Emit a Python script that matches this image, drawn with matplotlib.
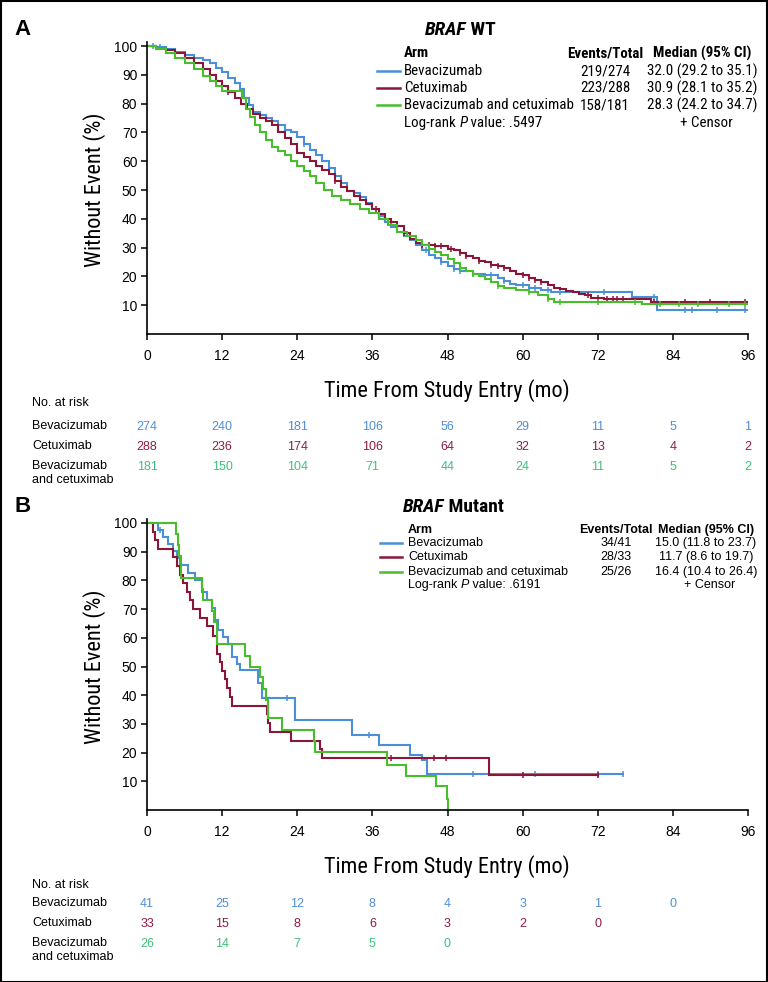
import numpy as np
import matplotlib
matplotlib.use('Agg')
import matplotlib.pyplot as plt
from matplotlib import font_manager as fm
from matplotlib.transforms import blended_transform_factory
from matplotlib.patches import Rectangle
from matplotlib.lines import Line2D

W, H = 768, 982
REG = ['Liberation Sans', 'DejaVu Sans']

BLUE, RED, GREEN = '#4a8fd8', '#8c1638', '#48be2c'
BLUE_TXT, RED_TXT, GREEN_TXT = '#4f8fd2', '#8e1d40', '#3cc07a'

months = [0, 12, 24, 36, 48, 60, 72, 84, 96]
arm_names = ['Bevacizumab', 'Cetuximab', 'Bevacizumab and cetuximab']
risk_labels = ['Bevacizumab', 'Cetuximab', 'Bevacizumab\nand cetuximab']

# ---- Panel A: BRAF WT ----
wt_bev_t = [0, 1.5, 3, 4.5, 6, 7.5, 9, 10, 11, 12, 13, 14, 14.8, 15.5, 16.3, 17, 18, 19, 20, 21,
            22, 23, 24, 25, 26, 27, 28, 29, 30, 31, 32, 33, 34, 35, 36, 37, 38, 39, 40, 41, 42, 43,
            44, 45, 46, 47, 48, 49, 50, 52, 54, 56, 57, 58, 59, 61, 63, 64.5, 77.5, 81.5, 96]
wt_bev_s = [100, 99.5, 99, 98, 97, 96, 95, 94, 92.5, 91, 89, 87, 85, 82, 79.5, 77, 76, 75, 74, 72.5,
            71, 70, 68.5, 66, 64, 62, 60, 57.5, 55, 52.5, 49.8, 49, 47.5, 45.5, 43.5, 41, 39, 37, 35.5,
            34, 32.5, 31, 29, 27.5, 26.5, 25, 23.5, 22.5, 22, 21, 20.5, 19.5, 18.5, 17.5, 17, 16, 15.2,
            14.6, 13, 8.5, 8.5]
wt_cet_t = [0, 1.5, 3, 4.5, 6, 7.5, 9, 10, 11, 12, 13, 14, 15, 16, 17, 18, 19, 20, 21, 22, 23, 24,
            25, 26, 27, 28, 29, 30, 31, 32, 33, 34, 35, 36, 37, 38, 39, 40, 41, 42, 43, 44, 46, 48, 49,
            50, 51, 52, 53, 54, 55, 56, 57, 58, 59, 60, 61, 62, 63, 64, 65, 66, 67, 68, 69, 70, 71, 73,
            80.5, 96]
wt_cet_s = [100, 99, 98.5, 97.5, 96, 94, 92, 90, 88, 86, 84, 82, 80, 78, 76.5, 75, 74, 72.5, 70, 68,
            66, 63, 61.5, 60, 58.5, 57, 55.5, 53, 51, 49.5, 48, 46.5, 45, 43.5, 41.5, 40, 39, 37.5, 35,
            33, 31.5, 31, 30.5, 29.5, 29, 28, 27, 26.5, 25.5, 25, 24, 23.5, 23, 22, 21, 20.5, 19.5, 18.8,
            18, 17, 16, 15.5, 15, 14.5, 14, 13.5, 12.5, 12.2, 11.1, 11.1]
wt_both_t = [0, 1.5, 3, 4.5, 6, 7.5, 9, 10, 11, 12, 15.2, 15.8, 16.5, 17.2, 18, 19, 20, 21, 22, 23,
             24, 25, 26, 27, 28.3, 29.5, 31, 32.5, 34, 35.5, 37, 38.5, 40, 41.5, 43, 44, 45, 46, 47,
             48, 49, 50, 51, 52, 53, 54, 55, 56, 57, 59, 61, 62.5, 64, 65, 79, 96]
wt_both_s = [100, 99, 97.5, 96, 94, 92, 89.5, 88, 86, 84.5, 82, 78, 75.3, 72.5, 70, 67.5, 65, 63.5,
             62, 60, 58.5, 56.5, 55, 52.5, 50, 48, 46.5, 45, 43.5, 42, 40, 38, 35.5, 34, 32.5, 31,
             29.5, 28.5, 27.5, 26, 24.5, 23, 22, 21, 20, 19.2, 18, 16.5, 16, 15.3, 14.5, 13.5, 12, 11.1,
             10.4, 10.4]
wt_bev_cens = [1, 2, 25, 31, 44.5, 47, 49, 50, 52, 55, 57, 60, 62, 64, 66, 73, 81, 86, 87, 91, 95.5]
wt_cet_cens = [13, 30, 36.5, 41, 44, 45, 46, 47, 48.5, 50, 51, 53, 55, 56, 57, 60, 61, 62, 63, 70.5,
               72, 73.5, 74.5, 75, 76, 81, 86, 90, 95.5]
wt_both_cens = [49, 50, 52, 56, 61, 64, 66, 72, 78, 82, 85, 88, 93, 95.5]
wt_events = ['219/274', '223/288', '158/181']
wt_median = ['32.0 (29.2 to 35.1)', '30.9 (28.1 to 35.2)', '28.3 (24.2 to 34.7)']
wt_pval = '.5497'
wt_risk = [[274, 240, 181, 106, 56, 29, 11, 5, 1],
           [288, 236, 174, 106, 64, 32, 13, 4, 2],
           [181, 150, 104, 71, 44, 24, 11, 5, 2]]

# ---- Panel B: BRAF Mutant ----
mt_bev_t = [0, 1.8, 2.6, 3.4, 4.2, 4.8, 5.3, 6.6, 7.7, 8.75, 9.55, 10.35, 10.9, 11.4, 12.2, 13.0,
            13.55, 14.35, 14.9, 17.8, 18.35, 23.7, 32.75, 37.0, 42.0, 43.95, 44.75, 76]
mt_bev_s = [100, 97.6, 95.1, 92.7, 90.2, 87.8, 85.4, 82.5, 80, 76, 73.2, 70.3, 66.2, 62.7, 60.4, 58,
            53.4, 51, 48.7, 44.1, 39, 31.4, 26.2, 22.7, 19.2, 17.4, 12.7, 12.7]
mt_cet_t = [0, 0.9, 1.3, 1.8, 4.2, 4.75, 5.3, 5.8, 6.35, 6.9, 7.4, 8.5, 9.55, 10.6, 11.15, 11.7,
            12.0, 12.5, 12.85, 13.3, 13.55, 19.15, 19.4, 19.7, 23.0, 27.7, 27.95, 54.6, 72]
mt_cet_s = [100, 97, 94, 91, 88, 85, 82, 79, 76, 73, 70, 67, 64, 60.6, 54.5, 51.5, 48.5, 45.5, 42.4,
            39.4, 36.4, 33.4, 30.3, 27.3, 24.2, 21.2, 18.2, 12.1, 12.1]
mt_both_t = [0, 4.64, 5.0, 5.17, 5.39, 8.75, 9.0, 10.35, 10.7, 11.15, 15.7, 16.5, 18.1, 18.6, 19.0,
             19.4, 21.55, 26.6, 26.9, 38.35, 41.3, 46.1, 47.9, 48.0]
mt_both_s = [100, 96.2, 92.3, 88.5, 80.8, 76.9, 73.1, 69.2, 65.4, 57.7, 53.8, 50, 46.2, 42.3, 38.5,
             32, 27.9, 23.9, 20.2, 15.8, 12, 8.3, 3.8, 0]
mt_bev_cens = [2.1, 22.3, 35.4, 52, 62, 72, 76]
mt_cet_cens = [38.9, 45.8, 47.7, 60, 72]
mt_both_cens = []
mt_events = ['34/41', '28/33', '25/26']
mt_median = ['15.0 (11.8 to 23.7)', '11.7 (8.6 to 19.7)', '16.4 (10.4 to 26.4)']
mt_pval = '.6191'
mt_risk = [[41, 25, 12, 8, 4, 3, 1, 0],
           [33, 15, 8, 6, 3, 2, 0],
           [26, 14, 7, 5, 0]]

letter_title = {'A': 'WT', 'B': 'Mutant'}


def pick_narrow():
    # the original uses a condensed Helvetica; take whatever condensed face is installed
    names = {f.name for f in fm.fontManager.ttflist}
    for n in ['Liberation Sans Narrow', 'Roboto Condensed', 'Noto Sans Condensed',
              'Open Sans Condensed', 'DejaVu Sans Condensed', 'Arial Narrow']:
        if n in names:
            return dict(family=[n, 'DejaVu Sans']), 1.0
    for pref in ['Roboto', 'Noto Sans', 'Open Sans', 'DejaVu Sans']:
        for f in fm.fontManager.ttflist:
            if f.name == pref and f.stretch in ('condensed', 'semi-condensed'):
                return dict(family=[pref], fontstretch=f.stretch), 1.0
    return dict(family=REG), 0.84


NARROW, NSCALE = pick_narrow()


def fx(x):
    return x / W


def fy(y):
    return 1 - y / H


fig = plt.figure(figsize=(W / 100, H / 100), dpi=100)
fig.patch.set_facecolor('white')


def step_value(t, s, tc):
    i = np.searchsorted(np.asarray(t), tc, side='right') - 1
    return np.asarray(s)[i]


def draw_panel(letter, title_right, y0, per, curves, censors, events, medians, pval, risk,
               leg_rows, leg_x, leg_kw, leg_size, risk_y):
    top = y0 - 101.5 * per
    ax = fig.add_axes([fx(147), fy(y0), fx(748) - fx(147), (y0 - top) / H])
    colors = [BLUE, RED, GREEN]
    for (t, s), c, cens in zip(curves, colors, censors):
        ax.step(t, s, where='post', color=c, lw=1.5, solid_joinstyle='miter')
        if cens:
            ax.plot(cens, [step_value(t, s, v) for v in cens], ls='none', marker='|',
                    ms=5, mew=1.1, color=c)
    ax.set_xlim(0, 96)
    ax.set_ylim(0, 101.5)
    ax.set_xticks(months)
    ax.set_yticks(range(10, 101, 10))
    for side in ['top', 'right']:
        ax.spines[side].set_visible(False)
    for side in ['left', 'bottom']:
        ax.spines[side].set_linewidth(1.2)
    ax.tick_params(direction='out', length=4, width=1.1, labelsize=10, pad=3)
    ax.tick_params(axis='x', pad=7)
    for lab in ax.get_xticklabels() + ax.get_yticklabels():
        lab.set_family(REG)

    # axis labels
    fig.text(fx(447), fy(y0 + 57), 'Time From Study Entry (mo)', ha='center', va='center',
             fontsize=16 * NSCALE, **NARROW)
    fig.text(fx(95), fy(y0 - 50 * per), 'Without Event (%)', ha='center', va='center',
             rotation=90, fontsize=16 * NSCALE, **NARROW)

    # panel letter + title
    fig.text(fx(14), fy(top - 12), letter, ha='left', va='center', family=REG, fontsize=16,
             weight='bold')
    t1 = fig.text(fx(title_right), fy(top - 12), 'BRAF', ha='right', va='center',
                  fontsize=14 * NSCALE, weight='bold', style='italic', **NARROW)
    ax.annotate(' ' + letter_title[letter], xy=(1, 0), xycoords=t1, va='bottom', ha='left',
                fontsize=14 * NSCALE, weight='bold', annotation_clip=False, **NARROW)

    # legend block
    lx_line0, lx_line1, lx_text, lx_ev, lx_med = leg_x
    fkw = dict(fontsize=leg_size, **leg_kw)
    fig.text(fx(lx_text), fy(leg_rows[0]), 'Arm', ha='left', va='center', weight='bold', **fkw)
    fig.text(fx(lx_ev), fy(leg_rows[0]), 'Events/Total', ha='center', va='center', weight='bold',
             **fkw)
    fig.text(fx(lx_med), fy(leg_rows[0]), 'Median (95% CI)', ha='center', va='center',
             weight='bold', **fkw)
    for i in range(3):
        yy = fy(leg_rows[i + 1])
        fig.add_artist(Line2D([fx(lx_line0), fx(lx_line1)], [yy, yy], color=colors[i], lw=1.8))
        fig.text(fx(lx_text), yy, arm_names[i], ha='left', va='center', **fkw)
        fig.text(fx(lx_ev), yy, events[i], ha='center', va='center', **fkw)
        fig.text(fx(lx_med), yy, medians[i], ha='center', va='center', **fkw)
    p1 = fig.text(fx(lx_text), fy(leg_rows[4]), 'Log-rank ', ha='left', va='center', **fkw)
    p2 = ax.annotate('P', xy=(1, 0), xycoords=p1, va='bottom', ha='left', style='italic',
                     annotation_clip=False, **fkw)
    ax.annotate(' value: ' + pval, xy=(1, 0), xycoords=p2, va='bottom', ha='left',
                annotation_clip=False, **fkw)
    fig.text(fx(lx_med + 4), fy(leg_rows[4]), '+ Censor', ha='center', va='center', **fkw)

    # numbers at risk
    ry_head, ry_rows = risk_y
    fig.text(fx(32), fy(ry_head), 'No. at risk', ha='left', va='center', family=REG, fontsize=9)
    tr = blended_transform_factory(ax.transData, fig.transFigure)
    txt_colors = [BLUE_TXT, RED_TXT, GREEN_TXT]
    for i in range(3):
        fig.text(fx(32), fy(ry_rows[i] - 7), risk_labels[i], ha='left', va='top', family=REG,
                 fontsize=9, linespacing=1.25)
        for m, n in zip(months, risk[i]):
            ax.text(m, fy(ry_rows[i]), str(n), transform=tr, ha='center', va='center',
                    family=REG, fontsize=9, color=txt_colors[i], clip_on=False)
    return ax


draw_panel('A', 466, 334, 2.88,
           [(wt_bev_t, wt_bev_s), (wt_cet_t, wt_cet_s), (wt_both_t, wt_both_s)],
           [wt_bev_cens, wt_cet_cens, wt_both_cens], wt_events, wt_median, wt_pval, wt_risk,
           [53, 71, 88, 105, 123], (377, 400, 404, 605, 702), NARROW, 10.8 * NSCALE,
           (403, [427, 447, 467]))

draw_panel('B', 444, 810, 2.87,
           [(mt_bev_t, mt_bev_s), (mt_cet_t, mt_cet_s), (mt_both_t, mt_both_s)],
           [mt_bev_cens, mt_cet_cens, mt_both_cens], mt_events, mt_median, mt_pval, mt_risk,
           [530, 543, 557, 572, 585], (380, 402, 408, 616, 706), dict(family=REG), 9,
           (885, [904, 924, 944]))

fig.add_artist(Rectangle((0.5 / W, 0.5 / H), 1 - 1.5 / W, 1 - 1.5 / H, transform=fig.transFigure,
                         fill=False, lw=1.5, ec='black'))

fig.savefig('out.png', dpi=100)
